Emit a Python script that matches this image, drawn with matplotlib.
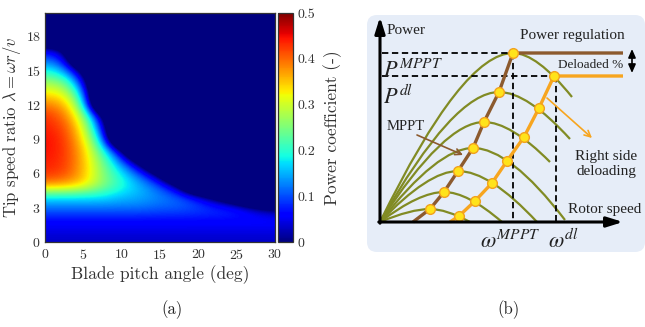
import numpy as np
import matplotlib
matplotlib.use('Agg')
import matplotlib.pyplot as plt
from matplotlib.path import Path
from matplotlib.patches import PathPatch, FancyBboxPatch

plt.rcParams['font.family'] = 'serif'
plt.rcParams['font.serif'] = ['cmr10']
plt.rcParams['mathtext.fontset'] = 'cm'
plt.rcParams['axes.formatter.use_mathtext'] = True

# ---- (a) power coefficient map ----
# rows = tip speed ratio 0..20, columns = pitch angle
# values below 0 are outside the operating region (drawn as 0)
pitch = [0, 2.5, 5, 7.5, 10, 12.5, 15, 17.5, 20, 22.5, 25, 27.5, 30]
tsr = [0, 1, 2, 3, 4, 5, 6, 7, 8, 9, 10, 11, 12, 13, 14, 15, 16, 17, 18, 19, 20]
cp = [
    [0.03, 0.03, 0.03, 0.03, 0.03, 0.03, 0.03, 0.03, 0.03, 0.03, 0.03, 0.03, 0.03],
    [0.045, 0.045, 0.045, 0.045, 0.045, 0.045, 0.045, 0.045, 0.045, 0.045, 0.045, 0.045, 0.045],
    [0.065, 0.065, 0.065, 0.065, 0.065, 0.065, 0.065, 0.065, 0.065, 0.065, 0.065, 0.065, 0.065],
    [0.12, 0.12, 0.12, 0.12, 0.12, 0.12, 0.11, 0.11, 0.10, 0.09, 0.08, 0.03, -0.01],
    [0.18, 0.18, 0.18, 0.18, 0.16, 0.15, 0.13, 0.11, 0.06, -0.04, -0.15, -0.3, -0.3],
    [0.38, 0.37, 0.34, 0.26, 0.20, 0.15, 0.10, -0.01, -0.3, -0.3, -0.3, -0.3, -0.3],
    [0.43, 0.42, 0.36, 0.26, 0.18, 0.10, -0.03, -0.3, -0.3, -0.3, -0.3, -0.3, -0.3],
    [0.44, 0.43, 0.36, 0.25, 0.12, -0.03, -0.3, -0.3, -0.3, -0.3, -0.3, -0.3, -0.3],
    [0.45, 0.43, 0.36, 0.21, 0.02, -0.3, -0.3, -0.3, -0.3, -0.3, -0.3, -0.3, -0.3],
    [0.45, 0.43, 0.34, 0.15, -0.3, -0.3, -0.3, -0.3, -0.3, -0.3, -0.3, -0.3, -0.3],
    [0.44, 0.42, 0.32, 0.07, -0.3, -0.3, -0.3, -0.3, -0.3, -0.3, -0.3, -0.3, -0.3],
    [0.43, 0.40, 0.28, 0.00, -0.3, -0.3, -0.3, -0.3, -0.3, -0.3, -0.3, -0.3, -0.3],
    [0.39, 0.37, 0.22, -0.3, -0.3, -0.3, -0.3, -0.3, -0.3, -0.3, -0.3, -0.3, -0.3],
    [0.33, 0.32, 0.15, -0.3, -0.3, -0.3, -0.3, -0.3, -0.3, -0.3, -0.3, -0.3, -0.3],
    [0.27, 0.25, 0.07, -0.3, -0.3, -0.3, -0.3, -0.3, -0.3, -0.3, -0.3, -0.3, -0.3],
    [0.19, 0.15, -0.03, -0.3, -0.3, -0.3, -0.3, -0.3, -0.3, -0.3, -0.3, -0.3, -0.3],
    [0.11, 0.08, -0.3, -0.3, -0.3, -0.3, -0.3, -0.3, -0.3, -0.3, -0.3, -0.3, -0.3],
    [0.04, -0.01, -0.3, -0.3, -0.3, -0.3, -0.3, -0.3, -0.3, -0.3, -0.3, -0.3, -0.3],
    [-0.3, -0.3, -0.3, -0.3, -0.3, -0.3, -0.3, -0.3, -0.3, -0.3, -0.3, -0.3, -0.3],
    [-0.3, -0.3, -0.3, -0.3, -0.3, -0.3, -0.3, -0.3, -0.3, -0.3, -0.3, -0.3, -0.3],
    [-0.3, -0.3, -0.3, -0.3, -0.3, -0.3, -0.3, -0.3, -0.3, -0.3, -0.3, -0.3, -0.3],
]
xticks = [0, 5, 10, 15, 20, 25, 30]
yticks = [0, 3, 6, 9, 12, 15, 18]
cticks = [0, 0.1, 0.2, 0.3, 0.4, 0.5]
clabels = ['0', '0.1', '0.2', '0.3', '0.4', '0.5']

# ---- (b) sketch, units are pixels from the axes origin (speed, power) ----
mppt_w = [50, 64, 78, 93, 104, 119, 133]
mppt_p = [13, 30, 51, 74, 100, 130, 169]
end_w = [90, 122, 157, 185, 170, 190, 192]
end_p = [0, 0, 0, 2, 60, 83, 125]
dl_w = [79, 95, 112, 127, 144, 159, 174]
dl_p = [6, 21, 39, 61, 85, 114, 146]
mppt_start, dl_start, flat_end = 33, 70, 243

green = '#818b24'
brown = '#8c5a2e'
orange = '#f7a51f'
dot_fc = '#ffe31a'
dot_ec = '#f2a11e'

fig = plt.figure(figsize=(6.45, 3.27), dpi=100)

# panel (a)
ax1 = fig.add_axes([45/645, 85/327, 230/645, 229/327])
dx = pitch[1] - pitch[0]
dy = tsr[1] - tsr[0]
im = ax1.imshow(np.array(cp), origin='lower', aspect='auto', cmap='jet',
                vmin=0, vmax=0.5, interpolation='bicubic',
                interpolation_stage='data',
                extent=[pitch[0] - dx/2, pitch[-1] + dx/2, tsr[0] - dy/2, tsr[-1] + dy/2])
ax1.set_xlim(0, 30)
ax1.set_ylim(0, 20)
ax1.set_xticks(xticks)
ax1.set_yticks(yticks)
ax1.tick_params(length=0, labelsize=10, pad=4, colors='#333333')
ax1.tick_params(axis='y', pad=3)
for s in ax1.spines.values():
    s.set_linewidth(0.9)
    s.set_color('#333333')
ax1.set_xlabel('Blade pitch angle (deg)', fontsize=12.5, color='#333333', labelpad=3)
ax1.set_ylabel(r'Tip speed ratio $\lambda = \omega r/v$', fontsize=12, color='#333333',
               va='center')
ax1.yaxis.set_label_coords(-33/230, 0.5)

cax = fig.add_axes([278/645, 85/327, 15/645, 229/327])
cb = fig.colorbar(im, cax=cax, ticks=cticks)
cb.ax.set_yticklabels(clabels)
cb.ax.tick_params(length=0, labelsize=10, pad=3, colors='#333333')
cb.outline.set_linewidth(0.9)
cb.outline.set_edgecolor('#333333')
cb.set_label('Power coefficient (-)', fontsize=12.5, color='#333333', labelpad=6)

# panel (b)
ax2 = fig.add_axes([367/645, 75/327, 278/645, 237/327])
ax2.set_xlim(-13, 265)
ax2.set_ylim(-30, 207)
ax2.axis('off')
ax2.add_patch(FancyBboxPatch((-13, -30), 278, 237, boxstyle='round,pad=0,rounding_size=10',
                             fc='#e6edf8', ec='none', clip_on=False, zorder=0))

# power curves for several wind speeds
for pw, pp, ew, ep in zip(mppt_w, mppt_p, end_w, end_p):
    verts = [(0, 0), (0.62*pw, pp), (pw, pp), (pw + 0.4*(ew - pw), pp), (ew, ep)]
    codes = [Path.MOVETO, Path.CURVE3, Path.CURVE3, Path.CURVE3, Path.CURVE3]
    ax2.add_patch(PathPatch(Path(verts, codes), fc='none', ec=green, lw=1.6, zorder=2))

# dashed guides
dash = dict(color='k', lw=1.3, dashes=(3.5, 2), zorder=3)
ax2.plot([2, mppt_w[-1]], [mppt_p[-1], mppt_p[-1]], **dash)
ax2.plot([mppt_w[-1], mppt_w[-1]], [mppt_p[-1], 0], **dash)
ax2.plot([2, dl_w[-1]], [dl_p[-1], dl_p[-1]], **dash)
ax2.plot([dl_w[-1] + 2, dl_w[-1] + 2], [dl_p[-1], 0], **dash)

# MPPT and deloaded operating curves
ax2.plot([mppt_start] + mppt_w + [flat_end], [0] + mppt_p + [mppt_p[-1]],
         color=brown, lw=2.4, zorder=4, solid_capstyle='butt')
ax2.plot([dl_start] + dl_w + [flat_end], [0] + dl_p + [dl_p[-1]],
         color=orange, lw=2.4, zorder=4, solid_capstyle='butt')
ax2.plot(mppt_w, mppt_p, 'o', ms=7, mfc=dot_fc, mec=dot_ec, mew=1, zorder=5)
ax2.plot(dl_w, dl_p, 'o', ms=7, mfc=dot_fc, mec=dot_ec, mew=1, zorder=5)

# axes arrows
ax_arrow = dict(arrowstyle='-|>,head_length=0.8,head_width=0.25', lw=2.2, color='k',
                mutation_scale=12, shrinkA=0, shrinkB=0)
ax2.annotate('', xy=(0, 205), xytext=(0, -1.2), arrowprops=ax_arrow, zorder=6)
ax2.annotate('', xy=(243, 0), xytext=(-1.2, 0), arrowprops=ax_arrow, zorder=6)

# annotation arrows
ax2.annotate('', xy=(83, 67), xytext=(37, 87),
             arrowprops=dict(arrowstyle='->', color=brown, lw=1.2, mutation_scale=11,
                             shrinkA=0, shrinkB=0), zorder=6)
ax2.annotate('', xy=(212, 84), xytext=(167, 124),
             arrowprops=dict(arrowstyle='->', color=orange, lw=1.2, mutation_scale=11,
                             shrinkA=0, shrinkB=0), zorder=6)
ax2.annotate('', xy=(252, 149), xytext=(252, 173),
             arrowprops=dict(arrowstyle='<|-|>,head_length=0.5,head_width=0.22', color='k',
                             lw=1.2, mutation_scale=10, shrinkA=0, shrinkB=0), zorder=6)

tfont = dict(family='Liberation Serif', color='#222222')
ax2.text(7, 191, 'Power', fontsize=11, va='center', ha='left', **tfont)
ax2.text(192, 186, 'Power regulation', fontsize=11, va='center', ha='center', **tfont)
ax2.text(211, 157, 'Deloaded %', fontsize=9.5, va='center', ha='center', **tfont)
ax2.text(26, 96, 'MPPT', fontsize=10.5, va='center', ha='center', **tfont)
ax2.text(226, 58, 'Right side\ndeloading', fontsize=11, va='center', ha='center',
         linespacing=1.15, **tfont)
ax2.text(188, 13, 'Rotor speed', fontsize=11, va='center', ha='left', **tfont)

mfont = dict(fontsize=16, math_fontfamily='stix', color='#222222', va='baseline', ha='left')
ax2.text(3, 145, r'$P^{MPPT}$', **mfont)
ax2.text(3, 118, r'$P^{dl}$', **mfont)
ax2.text(100, -26, r'$\omega^{MPPT}$', **mfont)
ax2.text(168, -26, r'$\omega^{dl}$', **mfont)

fig.text(172/645, 1 - 310/327, '(a)', fontsize=12, ha='center', va='center', color='#222222')
fig.text(508/645, 1 - 310/327, '(b)', fontsize=12, ha='center', va='center', color='#222222')

fig.savefig('out.png', dpi=100)
